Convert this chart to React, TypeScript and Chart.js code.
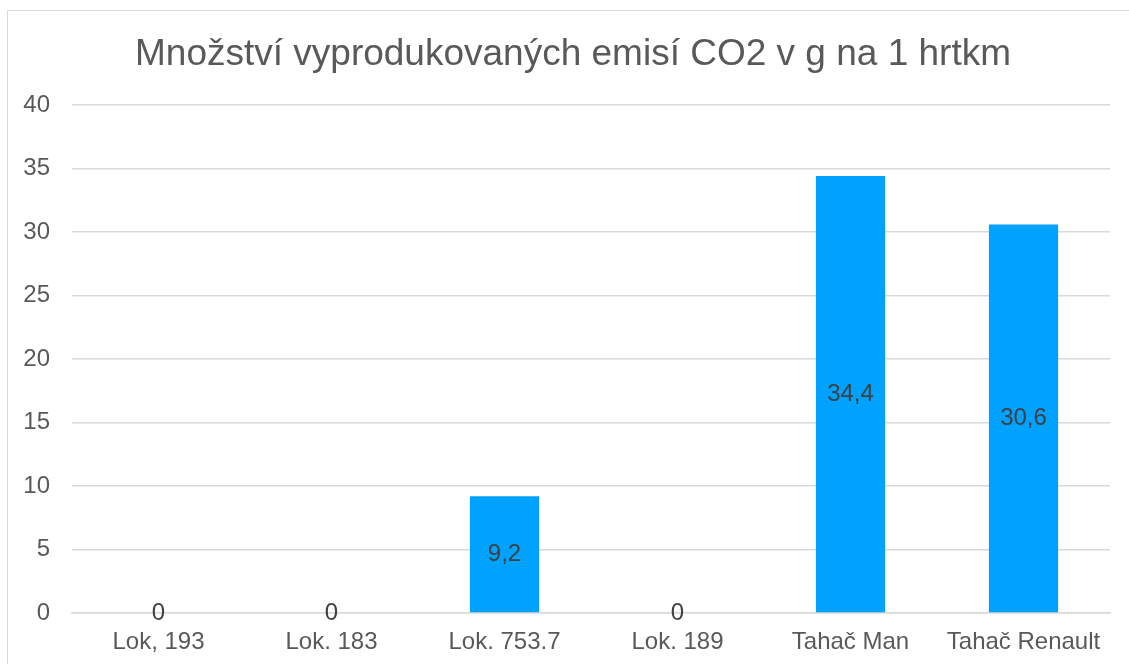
import React, { useEffect, useRef } from "react";
import { Chart, registerables } from "chart.js";

Chart.register(...registerables);

const TITLE = "Množství vyprodukovaných emisí CO2 v g na 1 hrtkm";
const CATEGORIES = ["Lok, 193", "Lok. 183", "Lok. 753.7", "Lok. 189", "Tahač Man", "Tahač Renault"];
const VALUES = [0, 0, 9.2, 0, 34.4, 30.6];
const Y_MIN = 0;
const Y_MAX = 40;
const Y_STEP = 5;

const FONT = "'Liberation Sans', Arial, sans-serif";

const valueLabels = {
  id: "valueLabels",
  afterDatasetsDraw(chart: any) {
    const ctx = chart.ctx;
    const meta = chart.getDatasetMeta(0);
    ctx.save();
    ctx.font = `24px ${FONT}`;
    ctx.fillStyle = "#404040";
    ctx.textAlign = "center";
    ctx.textBaseline = "middle";
    meta.data.forEach((el: any, i: number) => {
      const v = VALUES[i];
      const y = (el.y + el.base) / 2;
      ctx.fillText(String(v).replace(".", ","), el.x, y);
    });
    ctx.restore();
  },
};

const titlePlugin = {
  id: "customTitle",
  afterDraw(chart: any) {
    const ctx = chart.ctx;
    ctx.save();
    ctx.font = `37px ${FONT}`;
    ctx.fillStyle = "#595959";
    ctx.textAlign = "center";
    ctx.textBaseline = "middle";
    ctx.fillText(TITLE, 573, 55);
    ctx.restore();
  },
};

export default function App() {
  const ref = useRef<HTMLCanvasElement>(null);
  useEffect(() => {
    if (!ref.current) return;
    const chart = new Chart(ref.current, {
      type: "bar",
      data: {
        labels: CATEGORIES,
        datasets: [
          {
            data: VALUES,
            backgroundColor: "#00A2FF",
            barPercentage: 0.4,
            categoryPercentage: 1,
          },
        ],
      },
      options: {
        animation: false,
        responsive: false,
        maintainAspectRatio: false,
        layout: { padding: { left: 0, right: 19, top: 105, bottom: 7 } },
        plugins: {
          legend: { display: false },
          tooltip: { enabled: false },
          title: { display: false },
        },
        scales: {
          x: {
            grid: { display: false, drawTicks: false },
            border: { display: true, color: "#d9d9d9", width: 1.5 },
            ticks: { color: "#595959", font: { family: FONT, size: 24 }, padding: 15, autoSkip: false, maxRotation: 0 },
            afterFit(scale: any) {
              scale.height = 44;
            },
          },
          y: {
            min: Y_MIN,
            max: Y_MAX,
            grid: { color: "#d9d9d9", lineWidth: 1.5, drawTicks: false },
            border: { display: false },
            ticks: { stepSize: Y_STEP, color: "#595959", font: { family: FONT, size: 24 }, padding: 22 },
            afterFit(scale: any) {
              scale.width = 72;
            },
          },
        },
      },
      plugins: [valueLabels, titlePlugin],
    });
    return () => chart.destroy();
  }, []);
  return (
    <div style={{ position: "fixed", left: 0, top: 0, width: 1129, height: 664, overflow: "hidden", background: "#fff" }}>
      <div
        style={{
          position: "absolute",
          left: 7,
          top: 10,
          width: 1200,
          height: 800,
          border: "1.5px solid #d9d9d9",
          boxSizing: "border-box",
        }}
      />
      <canvas ref={ref} width={1129} height={664} style={{ position: "absolute", left: 0, top: 0 }} />
    </div>
  );
}
